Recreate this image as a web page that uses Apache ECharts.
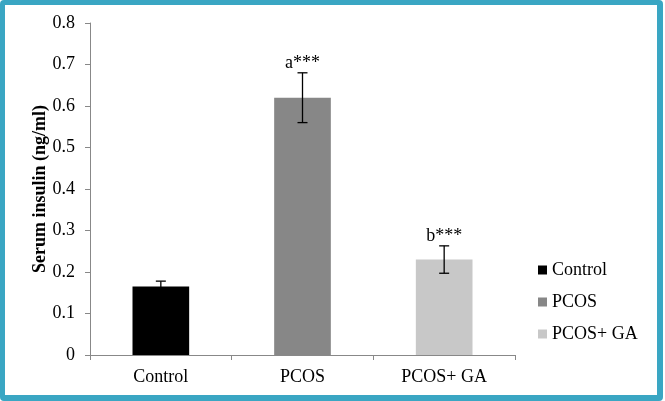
<!DOCTYPE html>
<html><head><meta charset="utf-8">
<script src="https://cdn.jsdelivr.net/npm/echarts@6/dist/echarts.min.js"></script>
<style>
html,body{margin:0;padding:0;background:#fff;}
#frame{position:absolute;left:0;top:0;width:663px;height:401px;box-sizing:border-box;border:5px solid #3aa6c3;border-right-width:6px;border-bottom-width:6px;border-radius:4px;background:#fff;}
#chart{position:absolute;left:0;top:0;width:665px;height:401px;}
</style></head>
<body>
<div id="frame"></div>
<div id="chart"></div>
<script>
const categories = ['Control', 'PCOS', 'PCOS+ GA'];
const means = [0.165, 0.62, 0.23];
const errLow = [0.152, 0.56, 0.197];
const errHigh = [0.178, 0.68, 0.263];
const sigLabels = ['', 'a***', 'b***'];
const colors = ['#000000', '#878787', '#c8c8c8'];

const font = 'Liberation Serif';
const barSeries = categories.map((c, i) => ({
  name: c,
  type: 'bar',
  barWidth: '40%',
  barGap: '-100%',
  itemStyle: { color: colors[i] },
  data: categories.map((_, j) => (j === i ? means[i] : null)),
  z: 2
}));

const chart = echarts.init(document.getElementById('chart'));
chart.setOption({
  animation: false,
  textStyle: { fontFamily: font },
  grid: { left: 90, right: 150, top: 23, bottom: 46 },
  legend: {
    orient: 'vertical', left: 533, top: 256,
    icon: 'rect', itemWidth: 9, itemHeight: 9, itemGap: 14,
    textStyle: { fontFamily: font, fontSize: 18, color: '#000' },
    data: categories.map(n => ({ name: n, textStyle: { fontFamily: font, fontSize: 18, color: '#000' } }))
  },
  xAxis: {
    type: 'category', data: categories,
    axisLine: { lineStyle: { color: '#888', width: 1 } },
    axisTick: { show: true, length: 5, lineStyle: { color: '#888' } },
    axisLabel: { fontFamily: font, fontSize: 18, color: '#000', margin: 13 }
  },
  yAxis: {
    type: 'value', min: 0, max: 0.8, interval: 0.1,
    name: 'Serum insulin (ng/ml)', nameLocation: 'middle', nameGap: 41,
    nameMoveOverlap: false,
    nameTextStyle: { fontFamily: font, fontSize: 18, fontWeight: 'bold', color: '#000' },
    axisLine: { show: true, lineStyle: { color: '#888', width: 1 } },
    axisTick: { show: true, length: 5, lineStyle: { color: '#888' } },
    splitLine: { show: false },
    axisLabel: { fontFamily: font, fontSize: 18, color: '#000', margin: 15,
      formatter: v => (Math.round(v * 10) / 10).toString() }
  },
  series: barSeries.concat([{
    type: 'custom',
    z: 5,
    silent: true,
    data: categories.map((c, i) => [i, errLow[i], errHigh[i]]),
    renderItem: function (params, api) {
      const x = api.value(0);
      const lo = api.coord([x, api.value(1)]);
      const hi = api.coord([x, api.value(2)]);
      const cap = 5;
      const style = { stroke: '#000', lineWidth: 1.3 };
      const children = [
        { type: 'line', shape: { x1: hi[0], y1: hi[1], x2: lo[0], y2: lo[1] }, style: style },
        { type: 'line', shape: { x1: hi[0] - cap, y1: hi[1], x2: hi[0] + cap, y2: hi[1] }, style: style },
        { type: 'line', shape: { x1: lo[0] - cap, y1: lo[1], x2: lo[0] + cap, y2: lo[1] }, style: style }
      ];
      const lbl = sigLabels[params.dataIndex];
      if (lbl) {
        children.push({ type: 'text', style: { text: lbl, x: hi[0], y: hi[1] - 1,
          textAlign: 'center', textVerticalAlign: 'bottom',
          font: '18px "Liberation Serif"', fill: '#000' } });
      }
      return { type: 'group', children: children };
    }
  }])
});
</script>
</body></html>
